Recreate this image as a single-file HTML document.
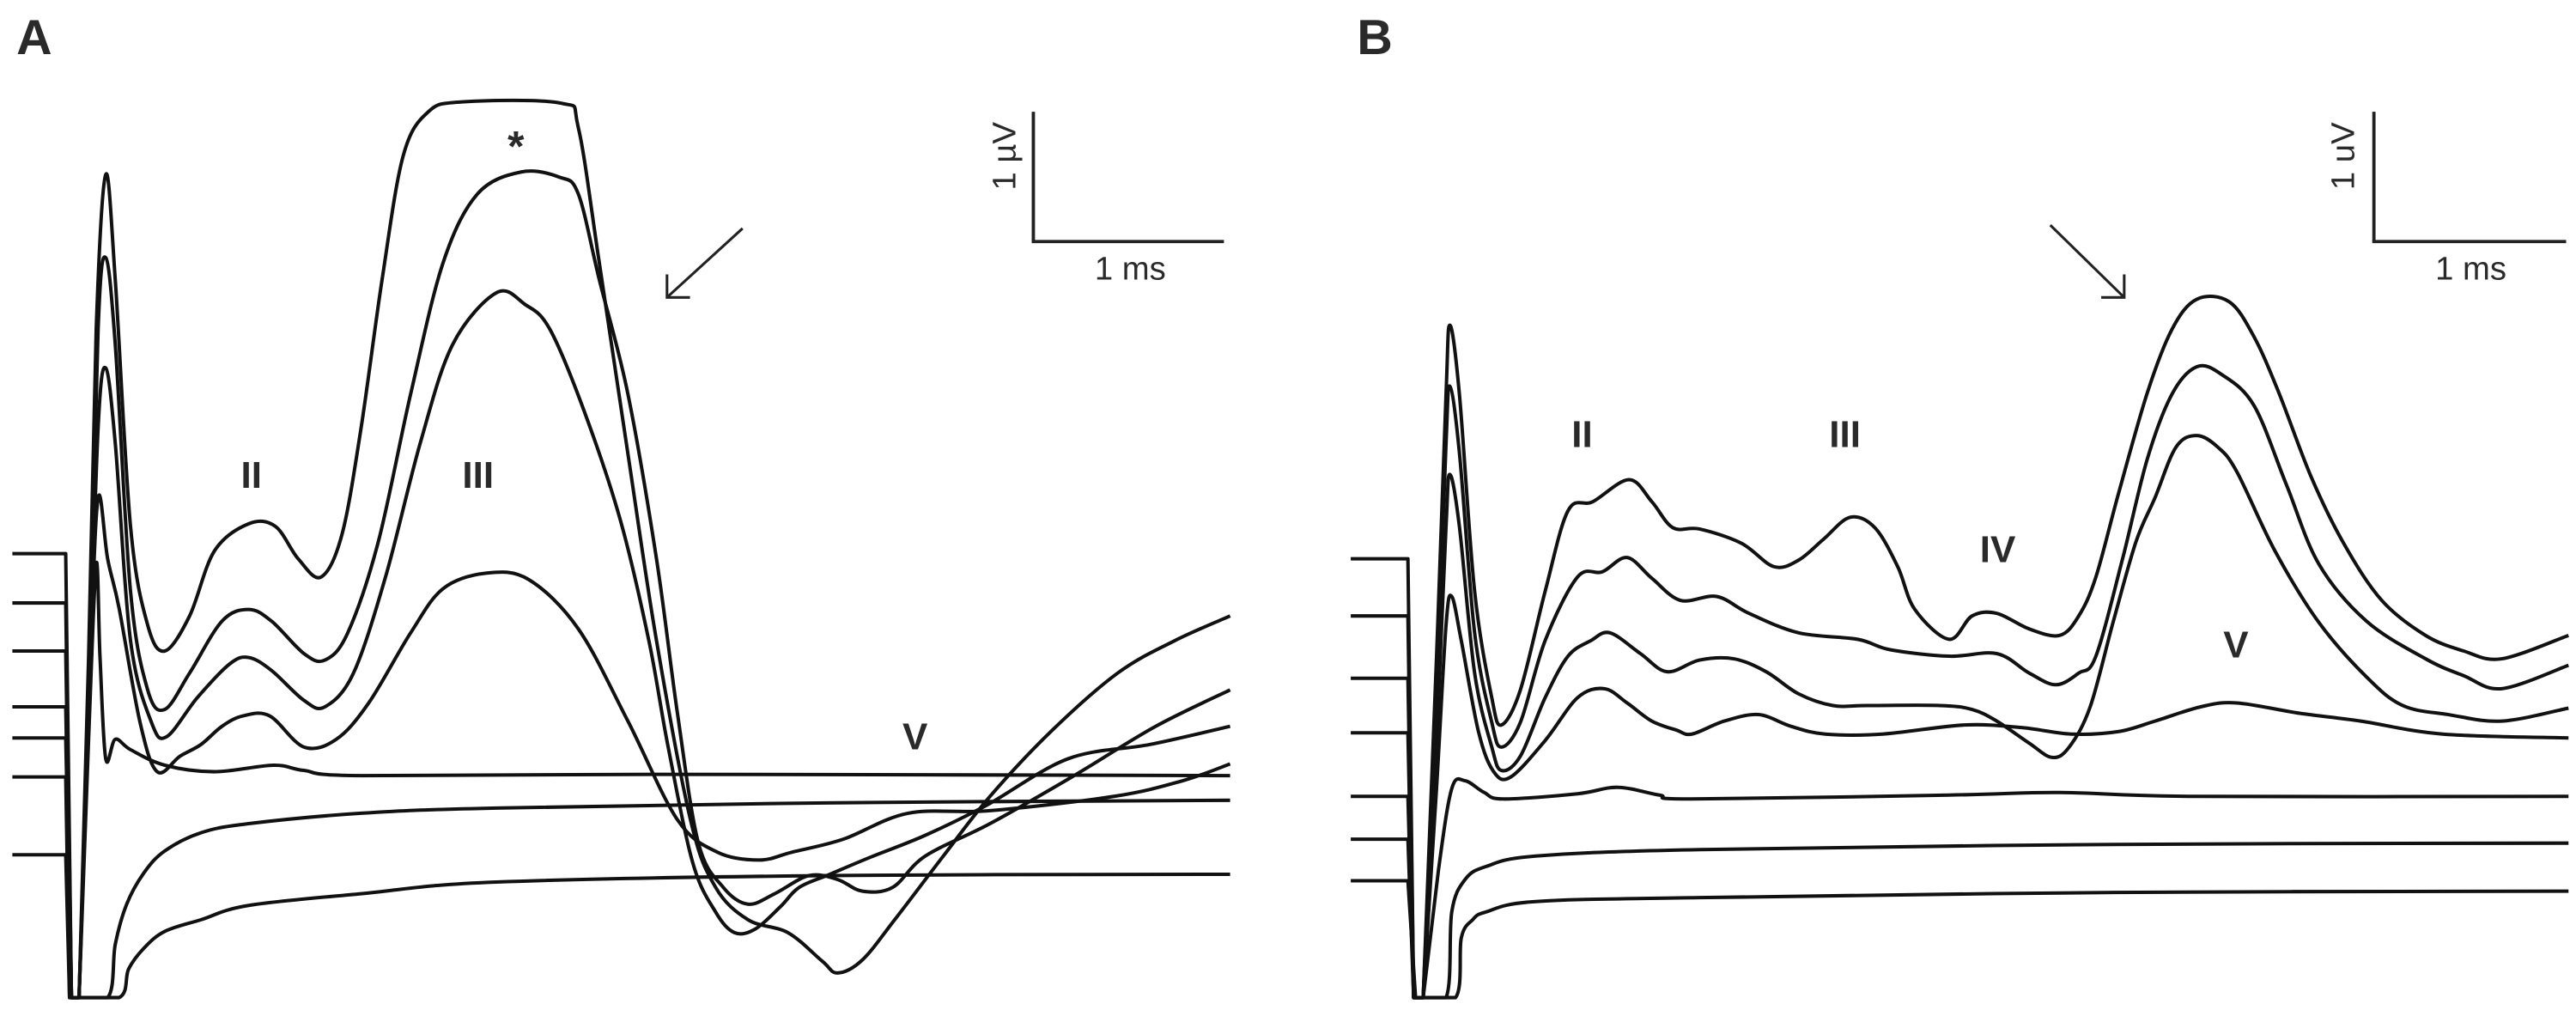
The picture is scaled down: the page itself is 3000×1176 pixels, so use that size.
<!DOCTYPE html>
<html><head><meta charset="utf-8"><style>
html,body{margin:0;padding:0;background:#fff;}
svg{display:block;}
text{font-family:"Liberation Sans",sans-serif;fill:#2a2a2a;}
</style></head><body>
<svg id="fig" width="3000" height="1176" viewBox="0 0 1568 614.66" xmlns="http://www.w3.org/2000/svg">
<g id="panelA">
<text x="10" y="33" font-size="30" font-weight="bold">A</text>
<line x1="629" y1="68" x2="629" y2="147" stroke="#222" stroke-width="2"/>
<line x1="628" y1="147" x2="745" y2="147" stroke="#222" stroke-width="2"/>
<text transform="translate(618,95) rotate(-90)" text-anchor="middle" font-size="20">1 µV</text>
<text x="688" y="170" text-anchor="middle" font-size="20">1 ms</text>
<g stroke="#222" stroke-width="1.6" fill="none">
<line x1="452" y1="139" x2="406" y2="181"/><polyline points="406,167 406,181 420,181"/></g>
<text x="153" y="297" text-anchor="middle" font-size="23" font-weight="bold">II</text>
<text x="291" y="297" text-anchor="middle" font-size="23" font-weight="bold">III</text>
<text x="557" y="456" text-anchor="middle" font-size="23" font-weight="bold">V</text>
<text x="314" y="98" text-anchor="middle" font-size="26" font-weight="bold">*</text>
</g>
<g id="panelB">
<text x="826" y="33" font-size="30" font-weight="bold">B</text>
<line x1="1445" y1="68" x2="1445" y2="147" stroke="#222" stroke-width="2"/>
<line x1="1444" y1="147" x2="1562" y2="147" stroke="#222" stroke-width="2"/>
<text transform="translate(1433,95) rotate(-90)" text-anchor="middle" font-size="20">1 uV</text>
<text x="1504" y="170" text-anchor="middle" font-size="20">1 ms</text>
<g stroke="#222" stroke-width="1.6" fill="none">
<line x1="1248" y1="137" x2="1293" y2="181"/><polyline points="1279,181 1293,181 1293,167"/></g>
<text x="963" y="272" text-anchor="middle" font-size="23" font-weight="bold">II</text>
<text x="1123" y="272" text-anchor="middle" font-size="23" font-weight="bold">III</text>
<text x="1216" y="342" text-anchor="middle" font-size="23" font-weight="bold">IV</text>
<text x="1361" y="400" text-anchor="middle" font-size="23" font-weight="bold">V</text>
</g>
</svg>
<script>
// Panel A traces: time (ms from stimulus), amplitude (µV, common zero)
const A1_t=[-0.28,0,0.03,0.07,0.12,0.16,0.21,0.26,0.34,0.43,0.52,0.65,0.78,0.96,1.10,1.22,1.34,1.45,1.55,1.66,1.77,1.90,2.08,2.60,2.69,2.80,2.95,3.10,3.28,3.41,3.58,3.79,3.97,4.05,4.18,4.35,4.61,4.85,5.17,5.52,5.82,6.11];
const A1_v=[3.33,3.33,-0.09,-0.09,2.53,5.06,6.25,5.44,3.54,2.78,2.58,2.85,3.35,3.56,3.54,3.29,3.15,3.48,4.30,5.44,6.39,6.73,6.81,6.80,6.61,5.57,4.10,2.66,1.27,0.76,0.51,0.41,0.19,0.10,0.20,0.51,1.01,1.46,1.96,2.41,2.66,2.85];
const A2_t=[-0.28,0,0.03,0.07,0.12,0.17,0.21,0.26,0.34,0.43,0.52,0.65,0.82,0.96,1.08,1.25,1.36,1.48,1.64,1.81,1.98,2.16,2.39,2.59,2.69,2.80,2.95,3.10,3.21,3.32,3.45,3.58,3.72,3.90,4.05,4.18,4.34,4.51,4.85,5.28,5.72,6.11];
const A2_v=[2.95,2.95,-0.09,-0.09,2.28,5.06,5.61,4.94,3.04,2.28,2.13,2.41,2.81,2.90,2.81,2.56,2.51,2.72,3.42,4.56,5.57,6.10,6.27,6.23,6.10,5.44,4.56,3.29,2.10,1.10,0.76,0.63,0.71,0.85,0.82,0.73,0.76,1.00,1.25,1.61,2.00,2.28];
const A3_t=[-0.28,0,0.03,0.07,0.12,0.17,0.21,0.26,0.34,0.45,0.53,0.69,0.86,0.96,1.08,1.25,1.36,1.51,1.68,1.86,2.03,2.26,2.41,2.54,2.72,2.91,3.06,3.16,3.29,3.41,3.51,3.62,3.75,3.85,4.01,4.22,4.51,4.83,5.26,5.69,6.11];
const A3_v=[2.58,2.58,-0.09,-0.09,2.15,4.30,4.76,4.18,2.66,2.03,1.92,2.22,2.48,2.53,2.43,2.20,2.15,2.41,3.16,4.18,4.94,5.34,5.25,5.06,4.43,3.59,2.66,1.85,0.95,0.57,0.41,0.44,0.61,0.76,0.86,0.99,1.16,1.39,1.75,1.86,2.00];
const A4_t=[-0.28,0,0.03,0.07,0.13,0.17,0.22,0.28,0.39,0.48,0.60,0.71,0.82,0.93,1.07,1.25,1.42,1.59,1.81,1.98,2.21,2.43,2.69,2.95,3.21,3.42,3.64,3.81,4.08,4.42,4.85,5.50,5.86,6.11];
const A4_v=[2.15,2.15,-0.09,-0.09,2.53,3.76,3.29,2.91,2.03,1.65,1.77,1.86,2.00,2.08,2.08,1.84,1.90,2.18,2.72,3.06,3.18,3.13,2.75,2.04,1.28,1.03,0.97,1.03,1.13,1.33,1.35,1.46,1.58,1.71];
const A5_t=[-0.28,0,0.03,0.07,0.12,0.16,0.18,0.21,0.26,0.34,0.52,0.78,1.09,1.25,1.55,3.10,6.11];
const A5_v=[1.91,1.91,-0.09,-0.09,1.90,3.25,2.53,1.75,1.90,1.82,1.70,1.65,1.70,1.66,1.62,1.63,1.62];
const A6_t=[-0.28,0,0.02,0.22,0.26,0.32,0.41,0.52,0.71,0.96,1.55,2.26,3.99,6.11];
const A6_v=[1.61,1.61,-0.09,-0.09,0.32,0.63,0.87,1.04,1.18,1.25,1.33,1.37,1.41,1.43];
const A7_t=[-0.28,0,0.02,0.28,0.33,0.41,0.52,0.71,0.96,1.55,2.26,3.99,6.11];
const A7_v=[1.01,1.01,-0.09,-0.09,0.13,0.29,0.42,0.51,0.62,0.71,0.80,0.85,0.86];
// Panel B traces
const B1_t=[-0.30,0,0.03,0.08,0.15,0.20,0.22,0.27,0.35,0.44,0.49,0.59,0.72,0.84,0.97,1.16,1.28,1.39,1.53,1.75,1.92,2.05,2.18,2.32,2.45,2.57,2.66,2.84,2.96,3.09,3.26,3.42,3.52,3.61,3.73,3.88,4.01,4.14,4.31,4.44,4.57,4.74,4.91,5.11,5.34,5.54,5.74,6.09];
const B1_v=[3.29,3.29,-0.09,-0.09,2.53,4.56,5.09,4.56,3.04,2.22,2.01,2.28,3.04,3.66,3.73,3.90,3.73,3.53,3.52,3.41,3.23,3.28,3.44,3.61,3.53,3.23,2.90,2.67,2.85,2.87,2.75,2.70,2.85,3.15,3.80,4.57,5.06,5.29,5.27,5.00,4.57,3.92,3.41,2.97,2.70,2.58,2.52,2.70];
const B2_t=[-0.30,0,0.03,0.08,0.15,0.20,0.22,0.27,0.35,0.44,0.49,0.59,0.72,0.89,1.02,1.15,1.28,1.43,1.62,1.79,2.05,2.36,2.53,2.84,3.09,3.26,3.40,3.52,3.61,3.75,3.88,4.01,4.14,4.27,4.44,4.61,4.78,5.03,5.34,5.54,5.74,6.09];
const B2_v=[2.85,2.85,-0.09,-0.09,2.28,4.18,4.62,4.11,2.72,2.03,1.84,2.03,2.66,3.15,3.19,3.30,3.14,2.97,3.00,2.87,2.72,2.67,2.59,2.54,2.56,2.41,2.32,2.41,2.54,3.29,4.06,4.56,4.77,4.71,4.47,3.86,3.25,2.81,2.52,2.39,2.29,2.47];
const B3_t=[-0.30,0,0.03,0.08,0.15,0.20,0.22,0.27,0.35,0.44,0.49,0.59,0.72,0.84,0.96,1.06,1.22,1.36,1.53,1.71,1.88,2.05,2.23,2.41,2.79,2.96,3.09,3.26,3.38,3.47,3.58,3.70,3.82,3.92,4.03,4.14,4.25,4.35,4.55,4.78,5.03,5.22,5.46,5.74,6.09];
const B3_v=[2.37,2.37,-0.09,-0.09,1.90,3.54,3.94,3.54,2.41,1.84,1.66,1.77,2.22,2.54,2.66,2.72,2.56,2.42,2.51,2.52,2.42,2.25,2.16,2.16,2.16,2.13,2.04,1.87,1.76,1.84,2.15,2.80,3.42,3.76,4.15,4.24,4.15,3.96,3.35,2.80,2.38,2.16,2.09,2.04,2.14];
const B4_t=[-0.30,0,0.03,0.08,0.15,0.20,0.23,0.28,0.37,0.45,0.54,0.72,0.89,1.03,1.15,1.28,1.41,1.49,1.66,1.84,2.01,2.19,2.49,2.92,3.22,3.48,3.73,3.92,4.16,4.35,4.68,5.00,5.43,6.09];
const B4_v=[1.95,1.95,-0.09,-0.09,1.52,2.78,3.00,2.66,1.96,1.65,1.61,1.89,2.22,2.29,2.18,2.04,1.97,1.94,2.04,2.09,2.00,1.94,1.94,2.01,1.99,1.94,1.96,2.04,2.15,2.18,2.10,2.04,1.94,1.91];
const B5_t=[-0.30,0,0.03,0.08,0.16,0.23,0.30,0.40,0.50,0.89,1.10,1.32,1.49,2.84,3.42,4.14,6.09];
const B5_v=[1.46,1.46,-0.09,-0.09,0.89,1.52,1.58,1.49,1.44,1.48,1.53,1.47,1.44,1.47,1.49,1.46,1.46];
const B6_t=[-0.30,0,0.03,0.20,0.23,0.30,0.41,0.67,1.53,3.71,6.09];
const B6_v=[1.13,1.13,-0.09,-0.09,0.57,0.82,0.92,1.00,1.05,1.09,1.10];
const B7_t=[-0.30,0,0.04,0.25,0.28,0.34,0.41,0.67,1.53,3.71,6.09];
const B7_v=[0.81,0.81,-0.09,-0.09,0.37,0.51,0.57,0.65,0.68,0.72,0.73];

const PX_PER_MS=116, PX_PER_UV=79, ZERO_Y=600;
function xA(t){return 40+t*PX_PER_MS;}
function xB(t){return 857+t*PX_PER_MS;}
function yV(v){return ZERO_Y-v*PX_PER_UV;}

const NS='http://www.w3.org/2000/svg';
function drawTrace(parentId,tArr,vArr,xf,name){
  const P=tArr.map((t,i)=>[xf(t),yV(vArr[i])]);
  let d='M'+P[0][0].toFixed(2)+','+P[0][1].toFixed(2);
  for(let i=1;i<P.length;i++){
    const a=P[i-1], b=P[i];
    // straight segments through the stimulus artifact, smooth elsewhere
    if(tArr[i-1]<0.1 || i<4){
      d+='L'+b[0].toFixed(2)+','+b[1].toFixed(2);
    } else {
      const p0=P[Math.max(i-2,0)], p3=P[Math.min(i+1,P.length-1)];
      const c1=[a[0]+(b[0]-p0[0])/6, a[1]+(b[1]-p0[1])/6];
      const c2=[b[0]-(p3[0]-a[0])/6, b[1]-(p3[1]-a[1])/6];
      d+='C'+c1[0].toFixed(2)+','+c1[1].toFixed(2)+' '+c2[0].toFixed(2)+','+c2[1].toFixed(2)+' '+b[0].toFixed(2)+','+b[1].toFixed(2);
    }
  }
  const p=document.createElementNS(NS,'path');
  p.setAttribute('d',d);
  p.setAttribute('fill','none');
  p.setAttribute('stroke','#111');
  p.setAttribute('stroke-width','2.1');
  p.setAttribute('stroke-linejoin','round');
  
  
  document.getElementById(parentId).appendChild(p);
}
drawTrace('panelA',A1_t,A1_v,xA,'trace-a-1');
drawTrace('panelA',A2_t,A2_v,xA,'trace-a-2');
drawTrace('panelA',A3_t,A3_v,xA,'trace-a-3');
drawTrace('panelA',A4_t,A4_v,xA,'trace-a-4');
drawTrace('panelA',A5_t,A5_v,xA,'trace-a-5');
drawTrace('panelA',A6_t,A6_v,xA,'trace-a-6');
drawTrace('panelA',A7_t,A7_v,xA,'trace-a-7');
drawTrace('panelB',B1_t,B1_v,xB,'trace-b-1');
drawTrace('panelB',B2_t,B2_v,xB,'trace-b-2');
drawTrace('panelB',B3_t,B3_v,xB,'trace-b-3');
drawTrace('panelB',B4_t,B4_v,xB,'trace-b-4');
drawTrace('panelB',B5_t,B5_v,xB,'trace-b-5');
drawTrace('panelB',B6_t,B6_v,xB,'trace-b-6');
drawTrace('panelB',B7_t,B7_v,xB,'trace-b-7');
</script>
</body></html>
